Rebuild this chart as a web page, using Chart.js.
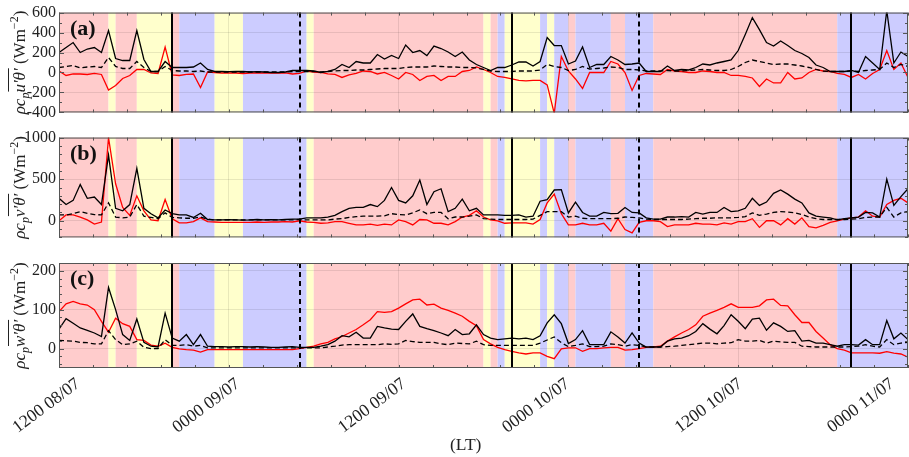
<!DOCTYPE html>
<html>
<head>
<meta charset="utf-8">
<script src="https://cdn.jsdelivr.net/npm/chart.js@4/dist/chart.umd.min.js"></script>
<style>
  body { margin: 0; background: #fff; width: 909px; height: 457px; position: relative; overflow: hidden; font-family: "Liberation Serif", serif; }
  canvas { position: absolute; left: 0; }
  #lt { position: absolute; left: 450px; top: 434px; font-size: 17.5px; color: #222; }
</style>
</head>
<body>
<canvas id="pa" width="909" height="125" style="top:0"></canvas>
<canvas id="pb" width="909" height="125" style="top:125px"></canvas>
<canvas id="pc" width="909" height="207" style="top:250px"></canvas>
<div id="lt">(LT)</div>
<script>
// half-hourly samples from 1200 08/07 (hour 0) to 0000 11/07 (hour 60)
const uBlack = [
  200,250,300,200,235,250,200,420,140,120, 120,420,130,10,10,110,50,50,50,55,
  95,30,10,10,8,10,10,5,8,5, 0,0,5,20,20,20,15,0,10,30,
  80,50,110,95,95,180,135,170,140,275, 200,220,170,265,240,205,160,205,125,80,
  50,20,50,50,75,105,105,65,110,350, 270,270,85,115,255,50,80,80,160,125,
  80,85,95,10,10,10,65,20,30,25, 50,85,75,95,110,125,220,380,550,430,
  300,265,315,270,220,190,150,75,50,10, 10,10,20,0,160,95,30,620,95,205, 160];
const uRed = [
  15,-30,-15,-15,-20,-10,-20,-175,-130,-60, -30,30,30,-5,-10,255,-25,-30,-20,-15,
  -150,5,0,-5,-5,-5,-10,-5,-5,-5, -5,-5,-5,-15,-10,15,5,0,-15,-20,
  -50,-25,-10,15,10,-15,0,-30,-65,0, -20,-80,-40,-30,-80,-40,-40,10,20,55,
  30,0,-40,-50,-65,-80,-85,-80,-80,-125, -410,160,15,-65,-160,0,0,0,110,85,
  0,-180,-30,-10,-15,-20,30,15,10,0, 0,15,10,0,0,-30,-30,-40,-55,-140,
  -65,-105,-105,0,-65,-55,0,30,15,10, -10,-20,-50,-20,-65,-10,30,220,30,95, -50];
const uDash = [
  50,60,70,45,55,60,50,150,60,40, 40,110,50,10,10,60,20,15,15,10,
  15,5,5,5,5,5,5,5,5,5, 5,5,5,10,10,10,10,5,10,15,
  20,20,25,25,30,35,40,40,40,50, 55,55,55,65,60,55,55,50,50,45,
  30,15,10,10,10,15,15,15,25,80, 60,50,20,30,60,35,40,45,55,50,
  30,30,25,15,15,15,20,15,15,20, 25,30,25,20,20,30,60,100,125,110,
  95,80,85,85,75,65,50,30,15,10, 10,10,15,10,20,25,30,95,50,80, 60];

const vBlack = [
  270,195,245,435,270,285,195,790,150,120, 195,630,150,85,35,130,85,70,70,40,
  90,15,10,10,12,10,8,10,15,10, 12,10,15,20,20,35,35,35,45,65,
  110,150,160,160,195,170,245,400,245,215, 300,490,195,350,385,110,150,260,120,150,
  70,70,70,65,65,70,45,55,235,255, 370,375,95,225,100,55,55,100,85,90,
  160,100,95,35,20,20,45,45,50,45, 100,80,100,100,160,110,120,150,270,185,
  225,330,370,320,260,215,95,55,45,35, 10,25,35,45,100,95,45,500,185,290, 385];
const vRed = [
  0,70,70,45,10,-40,-15,1000,445,160, 65,300,120,10,0,255,25,-25,-25,-10,
  35,-10,-15,-20,-20,-20,-20,-20,-15,-20, -15,-15,-10,-15,0,-15,-20,-30,-25,-10,
  -10,-30,-50,-50,-40,-55,-40,-50,10,-10, -50,15,10,-30,-30,-50,-10,45,65,120,
  45,10,0,-30,-25,-25,-25,-40,15,215, 320,85,-50,-50,-30,-50,-50,-30,-125,25,
  -105,-145,-20,0,0,-10,-70,-50,-50,-50, -30,-40,-40,-50,-25,-40,-10,-10,25,-80,
  0,0,-50,25,-40,35,-70,-85,-55,-20, 0,20,35,45,120,55,45,195,245,270, 215];
const vDash = [
  70,70,85,110,90,75,70,215,45,35, 45,195,55,40,25,95,40,35,30,30,
  45,20,10,10,10,10,10,10,10,10, 10,10,10,10,15,10,10,10,10,20,
  25,40,50,55,55,55,60,85,75,70, 95,130,85,100,100,25,45,45,55,70,
  25,20,15,15,15,15,15,20,65,110, 110,110,45,55,30,25,25,25,25,30,
  45,40,35,20,15,15,15,15,15,20, 25,30,30,35,35,35,40,50,95,65,
  80,100,110,105,95,75,45,25,15,15, 15,15,20,25,40,45,45,160,45,95, 110];

const wBlack = [
  50,77,65,53,47,40,31,157,100,36, 21,76,16,6,4,91,27,19,36,10,
  36,6,5,5,4,5,5,4,5,4, 3,3,4,5,3,3,3,6,10,19,
  33,30,42,27,27,57,53,50,49,70, 89,57,51,46,40,33,49,36,38,61,
  36,27,23,25,27,25,27,23,33,66, 87,64,13,23,46,10,10,10,43,30,
  14,40,14,4,4,4,19,25,27,33, 44,64,50,38,59,87,70,51,76,78,
  47,66,57,44,46,19,21,14,14,10, 6,10,10,9,23,10,10,72,25,40, 23];
const wRed = [
  95,115,121,115,112,100,70,42,78,64, 57,23,21,9,6,14,3,-1,-3,-4,
  -9,-3,-3,-3,-3,-3,-3,-3,-3,-3, -3,-3,-3,-3,0,3,6,12,16,25,
  31,40,49,61,74,95,93,95,104,115, 125,127,112,114,104,98,91,83,70,59,
  23,12,3,-3,-7,-11,-14,-11,-11,-20, -26,-1,2,2,-7,0,0,2,3,3,
  -4,-3,0,3,4,6,19,30,40,49, 61,83,91,98,106,115,106,106,106,110,
  125,127,111,110,87,67,67,44,27,10, 0,-4,-11,-11,-11,-11,-12,-8,-12,-14, -22];
const wDash = [
  21,20,19,16,15,12,12,46,23,10, 12,19,3,0,0,23,8,8,10,6,
  8,2,2,2,2,2,2,2,2,2, 2,2,2,2,2,2,2,2,4,6,
  9,10,10,10,10,10,12,11,12,21, 18,16,16,16,12,10,14,13,12,19,
  10,8,8,8,8,8,8,8,14,22, 30,15,5,8,12,5,5,6,12,10,
  6,10,8,4,4,4,5,6,8,10, 12,14,14,12,14,15,23,19,19,21,
  14,19,17,16,16,6,5,4,4,4, 4,4,5,6,10,6,4,23,10,14, 16];

// shaded periods (hours): r = pink, y = yellow, b = blue
const regionStart = [0, 3.5, 4, 5.5, 8, 8.5, 11, 13, 17.5, 18, 30, 30.5, 31, 31.5, 34, 34.5, 35, 36, 36.5, 39, 40, 42, 55];
const regionEnd   = [3.5, 4, 5.5, 8, 8.5, 11, 13, 17.5, 18, 30, 30.5, 31, 31.5, 34, 34.5, 35, 36, 36.5, 39, 40, 42, 55, 60];
const regionKind  = ['r','y','r','y','r','b','y','b','y','r','y','r','b','y','b','y','b','r','b','r','b','r','b'];
const solidMarks = [8, 32, 56];
const dashedMarks = [17, 41];

const xTickHours = [0, 12, 24, 36, 48, 60];
const xLabels = ['1200 08/07', '0000 09/07', '1200 09/07', '0000 10/07', '1200 10/07', '0000 11/07'];
// the outer labels sit nudged inward in the original figure
const xLabelShift = [14, 4, 0, -6, -3, -21];
const xMinorStep = 2.4;

const regionColor = { r: '#ffcccc', y: '#ffffcc', b: '#ccccff' };
const times = uBlack.map((_, i) => i * 0.5);
const serif = '"Liberation Serif", "DejaVu Serif", serif';

function series(vals) {
  return vals.map((v, i) => ({ x: times[i], y: v }));
}

function drawYTitle(ctx, area, sym) {
  const it = 'italic 17px ' + serif;
  const up = '17px ' + serif;
  const pieces = [
    { t: 'ρc', f: it, dy: 0 },
    { t: 'p', f: 'italic 12px ' + serif, dy: 4 },
    { t: sym + '′θ′', f: it, dy: 0, over: true },
    { t: ' (Wm', f: up, dy: 0 },
    { t: '−2', f: '12px ' + serif, dy: -7 },
    { t: ')', f: up, dy: 0 },
  ];
  let total = 0;
  pieces.forEach((p) => { ctx.font = p.f; p.w = ctx.measureText(p.t).width; total += p.w; });
  ctx.save();
  ctx.translate(25, (area.top + area.bottom) / 2);
  ctx.rotate(-Math.PI / 2);
  ctx.fillStyle = '#222';
  ctx.strokeStyle = '#222';
  ctx.textBaseline = 'alphabetic';
  let x = -total / 2;
  pieces.forEach((p) => {
    ctx.font = p.f;
    ctx.fillText(p.t, x, p.dy);
    if (p.over) {
      ctx.lineWidth = 1;
      ctx.beginPath();
      ctx.moveTo(x + 1, -16.5);
      ctx.lineTo(x + p.w, -16.5);
      ctx.stroke();
    }
    x += p.w;
  });
  ctx.restore();
}

const panelPlugin = {
  id: 'panel',
  beforeDraw(chart) {
    const { ctx, chartArea: a, scales } = chart;
    ctx.save();
    regionStart.forEach((s, i) => {
      const x0 = scales.x.getPixelForValue(s);
      const x1 = scales.x.getPixelForValue(regionEnd[i]);
      ctx.fillStyle = regionColor[regionKind[i]];
      ctx.fillRect(x0, a.top, x1 - x0, a.bottom - a.top);
    });
    ctx.restore();
  },
  afterDatasetsDraw(chart) {
    const { ctx, chartArea: a, scales } = chart;
    ctx.save();
    ctx.strokeStyle = '#000';
    ctx.lineWidth = 2;
    solidMarks.forEach((h) => {
      const x = Math.round(scales.x.getPixelForValue(h));
      ctx.beginPath(); ctx.moveTo(x, a.top); ctx.lineTo(x, a.bottom); ctx.stroke();
    });
    ctx.setLineDash([5, 4]);
    dashedMarks.forEach((h) => {
      const x = Math.round(scales.x.getPixelForValue(h));
      ctx.beginPath(); ctx.moveTo(x, a.top); ctx.lineTo(x, a.bottom); ctx.stroke();
    });
    ctx.restore();
  },
  afterDraw(chart, args, opts) {
    const { ctx, chartArea: a, scales } = chart;
    ctx.save();
    ctx.strokeStyle = '#555';
    ctx.lineWidth = 1;
    // inward ticks, all four sides
    const tick = (len, px, vertical) => {
      ctx.beginPath();
      if (vertical) {
        ctx.moveTo(px, a.bottom); ctx.lineTo(px, a.bottom - len);
        ctx.moveTo(px, a.top); ctx.lineTo(px, a.top + len);
      } else {
        ctx.moveTo(a.left, px); ctx.lineTo(a.left + len, px);
        ctx.moveTo(a.right, px); ctx.lineTo(a.right - len, px);
      }
      ctx.stroke();
    };
    for (let h = 0; h <= 60.01; h += xMinorStep) {
      tick(3, Math.round(scales.x.getPixelForValue(h)) + 0.5, true);
    }
    const y = scales.y;
    for (let v = Math.ceil(y.min / opts.minor) * opts.minor; v <= y.max; v += opts.minor) {
      tick(opts.ticks.includes(v) ? 5 : 3, Math.round(y.getPixelForValue(v)) + 0.5, false);
    }
    ctx.strokeRect(a.left + 0.5, a.top + 0.5, a.right - a.left - 1, a.bottom - a.top - 1);
    ctx.fillStyle = '#111';
    ctx.font = 'bold 22px ' + serif;
    ctx.fillText(opts.label, 70, a.top + 22);

    // rotated time labels under the bottom panel
    if (opts.showX) {
      ctx.fillStyle = '#222';
      ctx.font = '17.5px ' + serif;
      ctx.textAlign = 'right';
      ctx.textBaseline = 'top';
      xTickHours.forEach((h, i) => {
        ctx.save();
        ctx.translate(scales.x.getPixelForValue(h) + xLabelShift[i], a.bottom + 7);
        ctx.rotate(-37 * Math.PI / 180);
        ctx.fillText(xLabels[i], 0, 0);
        ctx.restore();
      });
    }
    ctx.restore();
    drawYTitle(ctx, a, opts.sym);
  },
};

function makePanel(id, cfg) {
  return new Chart(document.getElementById(id), {
    type: 'line',
    data: {
      datasets: [
        { data: series(cfg.dash), borderColor: '#000', borderWidth: 1.3, borderDash: [5, 3] },
        { data: series(cfg.black), borderColor: '#000', borderWidth: 1.3 },
        { data: series(cfg.red), borderColor: '#ff0000', borderWidth: 1.3 },
      ],
    },
    plugins: [panelPlugin],
    options: {
      responsive: false,
      animation: false,
      layout: { padding: { top: cfg.top, right: 1, left: 0, bottom: 0 } },
      elements: { point: { radius: 0 }, line: { tension: 0 } },
      plugins: {
        legend: { display: false },
        tooltip: { enabled: false },
        panel: { label: cfg.label, sym: cfg.sym, minor: cfg.minor, ticks: cfg.yTicks, showX: cfg.showX },
      },
      scales: {
        x: {
          type: 'linear',
          min: 0,
          max: 60,
          afterBuildTicks: (ax) => { ax.ticks = xTickHours.map((v) => ({ value: v })); },
          afterFit: (s) => { s.height = cfg.xHeight; s.paddingLeft = 0; s.paddingRight = 0; },
          grid: { color: 'rgba(0,0,0,0.09)', drawTicks: false },
          border: { display: false },
          ticks: { display: false },
        },
        y: {
          min: cfg.yMin,
          max: cfg.yMax,
          afterBuildTicks: (ax) => { ax.ticks = cfg.yTicks.map((v) => ({ value: v })); },
          afterFit: (s) => { s.width = 59; },
          grid: { color: 'rgba(0,0,0,0.09)', drawTicks: false },
          border: { display: false },
          ticks: {
            autoSkip: false,
            padding: 3,
            color: '#222',
            font: { family: serif, size: 16 },
            callback: (v) => String(v),
          },
        },
      },
    },
  });
}

makePanel('pa', { black: uBlack, red: uRed, dash: uDash, label: '(a)', sym: 'u',
  yMin: -400, yMax: 600, yTicks: [-400, -200, 0, 200, 400, 600], minor: 100, top: 10, xHeight: 10, showX: false });
makePanel('pb', { black: vBlack, red: vRed, dash: vDash, label: '(b)', sym: 'v',
  yMin: -200, yMax: 1000, yTicks: [0, 500, 1000], minor: 100, top: 12, xHeight: 8, showX: false });
makePanel('pc', { black: wBlack, red: wRed, dash: wDash, label: '(c)', sym: 'w',
  yMin: -50, yMax: 220, yTicks: [0, 100, 200], minor: 20, top: 13, xHeight: 89, showX: true });
</script>
</body>
</html>
